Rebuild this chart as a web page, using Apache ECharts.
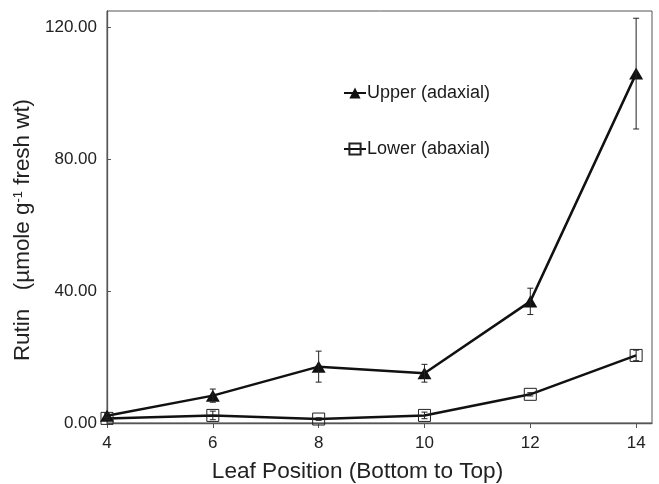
<!DOCTYPE html>
<html>
<head>
<meta charset="utf-8">
<script src="https://cdn.jsdelivr.net/npm/echarts@6/dist/echarts.min.js"></script>
<style>
  html, body { margin: 0; padding: 0; background: #fff; }
  #main { width: 659px; height: 484px; }
</style>
</head>
<body>
<div id="main"></div>
<script>
// leaf position on the stem
var positions = [4, 6, 8, 10, 12, 14];
// rutin, upper (adaxial) surface
var upperMean = [2.2, 8.3, 17.1, 15.1, 36.9, 106.0];
var upperErr = [0.6, 2.0, 4.7, 2.7, 4.0, 16.8];
// rutin, lower (abaxial) surface
var lowerMean = [1.4, 2.3, 1.2, 2.3, 8.7, 20.5];
var lowerErr = [0.4, 1.3, 0.4, 1.0, 0.5, 1.6];
// tick labels
var xTicks = [4, 6, 8, 10, 12, 14];
var yTicks = [0, 40, 80, 120];

var chart = echarts.init(document.getElementById('main'));

function pairs(xs, ys) {
    return xs.map(function (x, i) { return [x, ys[i]]; });
}
function triples(xs, ys, es) {
    return xs.map(function (x, i) { return [x, ys[i], es[i]]; });
}

// vertical error bar with small caps
function errorBar(params, api) {
    var x = api.value(0), y = api.value(1), e = api.value(2);
    var hi = api.coord([x, y + e]);
    var lo = api.coord([x, y - e]);
    var w = 3;
    var st = { stroke: '#222', lineWidth: 1 };
    return {
        type: 'group',
        children: [
            { type: 'line', shape: { x1: hi[0], y1: hi[1], x2: lo[0], y2: lo[1] }, style: st },
            { type: 'line', shape: { x1: hi[0] - w, y1: hi[1], x2: hi[0] + w, y2: hi[1] }, style: st },
            { type: 'line', shape: { x1: lo[0] - w, y1: lo[1], x2: lo[0] + w, y2: lo[1] }, style: st }
        ]
    };
}

var option = {
    backgroundColor: '#fff',
    animation: false,
    textStyle: { fontFamily: 'Liberation Sans, Arial, sans-serif' },
    grid: {
        left: 107, right: 7, top: 11, bottom: 61,
        outerBoundsMode: 'none',
        containLabel: false,
        show: true, borderColor: '#555', borderWidth: 1
    },
    legend: {
        orient: 'vertical',
        left: 343, top: 84, padding: 0,
        itemWidth: 22, itemHeight: 14, itemGap: 38,
        data: ['Upper (adaxial)', 'Lower (abaxial)'],
        textStyle: { fontSize: 18, color: '#1a1a1a', padding: [0, 0, 0, -4] }
    },
    xAxis: {
        type: 'value',
        min: 4, max: 14.3,
        name: 'Leaf Position (Bottom to Top)',
        nameLocation: 'middle',
        nameGap: 37,
        nameTextStyle: { fontSize: 22.6, color: '#222', padding: [0, 44, 0, 0] },
        axisLine: { lineStyle: { color: '#555', width: 1.3 } },
        axisTick: { show: true, inside: false, length: 5, customValues: xTicks, lineStyle: { color: '#555' } },
        axisLabel: { fontSize: 17, color: '#222', margin: 12, customValues: xTicks },
        splitLine: { show: false }
    },
    yAxis: {
        type: 'value',
        min: 0, max: 125,
        name: '{a|Rutin   (µmole g}{s|-1}{a| fresh wt)}',
        nameLocation: 'middle',
        nameGap: 66,
        nameRotate: 90,
        nameTextStyle: {
            padding: [0, 0, 0, -26],
            rich: {
                a: { fontSize: 22.4, color: '#222' },
                s: { fontSize: 13, color: '#222', verticalAlign: 'top', padding: [0, 0, 8, 0] }
            }
        },
        axisLine: { lineStyle: { color: '#555', width: 1.3 } },
        axisTick: { show: true, inside: true, length: 4, customValues: yTicks, lineStyle: { color: '#555' } },
        axisLabel: {
            fontSize: 17, color: '#222', margin: 10, customValues: yTicks,
            formatter: function (v) { return v.toFixed(2); }
        },
        splitLine: { show: false }
    },
    series: [
        {
            name: 'Lower (abaxial)',
            type: 'line',
            data: pairs(positions, lowerMean),
            symbol: 'rect',
            symbolSize: 12,
            lineStyle: { color: '#111', width: 2.5 },
            itemStyle: { color: 'rgba(255,255,255,0)', borderColor: '#222', borderWidth: 1 },
            z: 3
        },
        {
            name: 'Upper (adaxial)',
            type: 'line',
            data: pairs(positions, upperMean),
            symbol: 'triangle',
            symbolSize: [14, 12],
            lineStyle: { color: '#111', width: 2.5 },
            itemStyle: { color: '#111', borderColor: '#111', borderWidth: 0 },
            z: 3
        },
        {
            type: 'custom',
            name: 'lowerErr',
            renderItem: errorBar,
            data: triples(positions, lowerMean, lowerErr),
            z: 4
        },
        {
            type: 'custom',
            name: 'upperErr',
            renderItem: errorBar,
            data: triples(positions, upperMean, upperErr),
            z: 4
        }
    ]
};

chart.setOption(option);
</script>
</body>
</html>
